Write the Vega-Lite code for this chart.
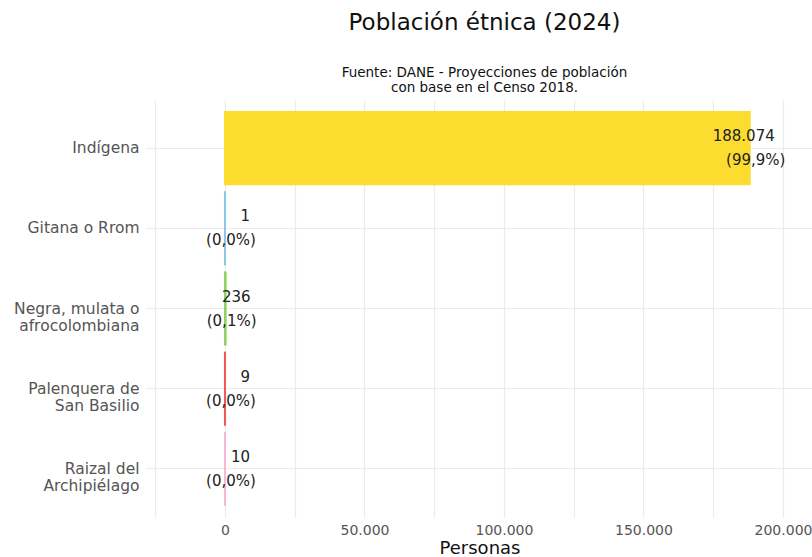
{
  "$schema": "https://vega.github.io/schema/vega-lite/v6.json",
  "width": 667,
  "height": 417,
  "padding": {"left": 13, "right": 0, "top": 11, "bottom": 0},
  "background": "white",
  "title": {
    "text": "Población étnica (2024)",
    "subtitle": ["Fuente: DANE - Proyecciones de población", "con base en el Censo 2018."],
    "anchor": "middle",
    "frame": "group",
    "dx": 5,
    "font": "DejaVu Sans",
    "fontSize": 23,
    "fontWeight": "normal",
    "color": "#111111",
    "subtitleFont": "DejaVu Sans",
    "subtitleFontSize": 13.5,
    "subtitleColor": "#111111",
    "subtitleLineHeight": 15,
    "subtitlePadding": 31,
    "offset": 6
  },
  "data": {
    "values": [
      {"grupo": "Indígena", "personas": 188074, "pct": "(99,9%)"},
      {"grupo": "Gitana o Rrom", "personas": 1, "pct": "(0,0%)"},
      {"grupo": "Negra, mulata o afrocolombiana", "personas": 236, "pct": "(0,1%)"},
      {"grupo": "Palenquera de San Basilio", "personas": 9, "pct": "(0,0%)"},
      {"grupo": "Raizal del Archipiélago", "personas": 10, "pct": "(0,0%)"}
    ]
  },
  "encoding": {
    "y": {
      "field": "grupo",
      "type": "nominal",
      "sort": ["Indígena", "Gitana o Rrom", "Negra, mulata o afrocolombiana", "Palenquera de San Basilio", "Raizal del Archipiélago"],
      "scale": {"paddingInner": 0.1, "paddingOuter": 0.15},
      "axis": {
        "title": null,
        "domain": false,
        "ticks": false,
        "grid": true,
        "bandPosition": 0.5,
        "gridColor": "#EBEBEB",
        "gridWidth": 1.2,
        "labelFont": "DejaVu Sans",
        "labelFontSize": 15.5,
        "labelColor": "#555555",
        "labelPadding": 7,
        "labelLineHeight": 17,
        "labelLimit": 300,
        "labelExpr": "datum.label == 'Negra, mulata o afrocolombiana' ? ['Negra, mulata o', 'afrocolombiana'] : datum.label == 'Palenquera de San Basilio' ? ['Palenquera de', 'San Basilio'] : datum.label == 'Raizal del Archipiélago' ? ['Raizal del', 'Archipiélago'] : datum.label"
      }
    },
    "x": {
      "field": "personas",
      "type": "quantitative",
      "scale": {"domain": [-28300, 210750], "nice": false, "zero": false},
      "axis": {
        "title": "Personas",
        "titleFont": "DejaVu Sans",
        "titleFontSize": 18,
        "titleFontWeight": "normal",
        "titleColor": "#111111",
        "titlePadding": 2,
        "values": [-25000, 0, 25000, 50000, 75000, 100000, 125000, 150000, 175000, 200000],
        "format": ",d",
        "labelExpr": "datum.value % 50000 === 0 ? datum.label : ''",
        "domain": false,
        "ticks": false,
        "grid": true,
        "gridColor": "#EBEBEB",
        "gridWidth": 1.2,
        "labelFont": "DejaVu Sans",
        "labelFontSize": 14,
        "labelColor": "#555555",
        "labelPadding": 6
      }
    }
  },
  "layer": [
    {
      "mark": {"type": "bar", "strokeWidth": 2},
      "encoding": {
        "color": {
          "field": "grupo",
          "type": "nominal",
          "scale": {
            "domain": ["Indígena", "Gitana o Rrom", "Negra, mulata o afrocolombiana", "Palenquera de San Basilio", "Raizal del Archipiélago"],
            "range": ["#FDDC30", "#86C8EA", "#8ED35E", "#F05A5A", "#F7B8D8"]
          },
          "legend": null
        },
        "stroke": {
          "field": "grupo",
          "type": "nominal",
          "scale": {
            "domain": ["Indígena", "Gitana o Rrom", "Negra, mulata o afrocolombiana", "Palenquera de San Basilio", "Raizal del Archipiélago"],
            "range": ["#FDDC30", "#86C8EA", "#8ED35E", "#F05A5A", "#F7B8D8"]
          },
          "legend": null
        }
      }
    },
    {
      "mark": {"type": "text", "align": "right", "baseline": "middle", "dx": 25, "dy": -12, "font": "DejaVu Sans", "fontSize": 15, "color": "#222222"},
      "encoding": {
        "text": {"field": "personas", "type": "quantitative", "format": ",d"}
      }
    },
    {
      "mark": {"type": "text", "align": "center", "baseline": "middle", "dx": 6, "dy": 12, "font": "DejaVu Sans", "fontSize": 15, "color": "#222222"},
      "encoding": {
        "text": {"field": "pct", "type": "nominal"}
      }
    }
  ],
  "config": {
    "view": {"stroke": null},
    "font": "DejaVu Sans",
    "locale": {
      "number": {"decimal": ",", "thousands": ".", "grouping": [3], "currency": ["$", ""]}
    }
  }
}
